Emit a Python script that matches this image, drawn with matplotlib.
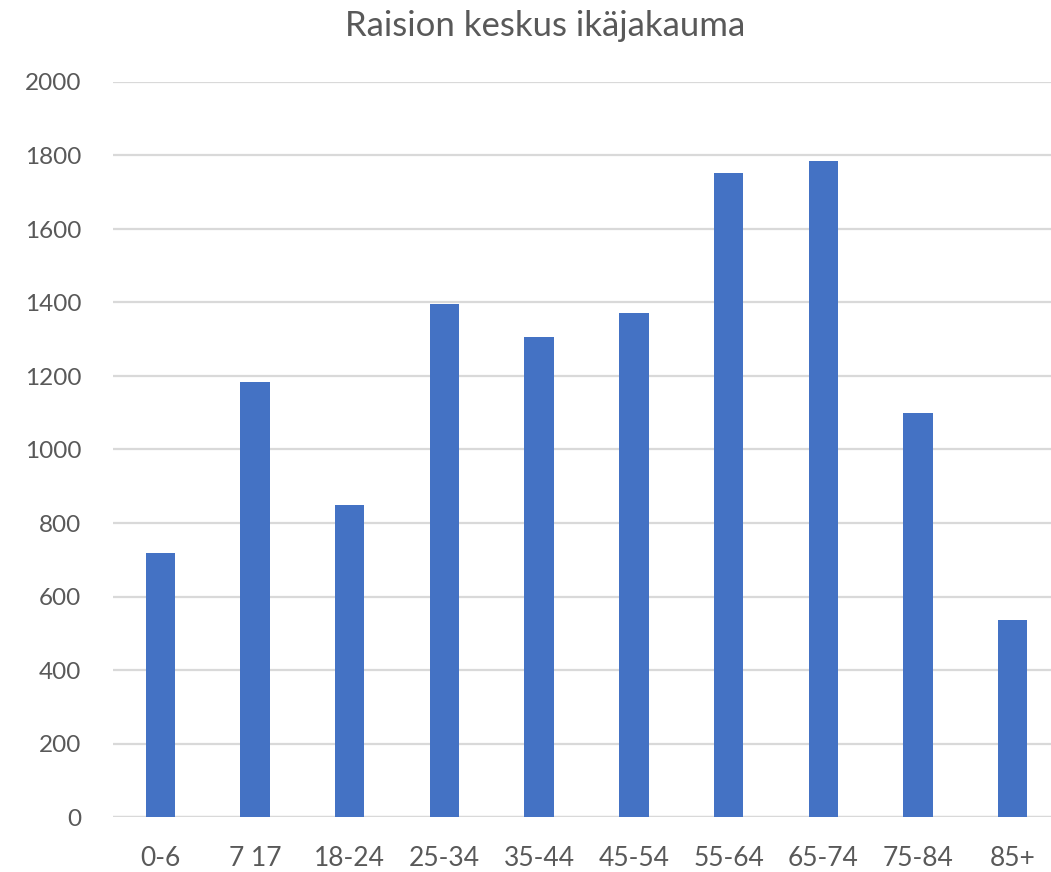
import matplotlib
matplotlib.use("Agg")
import matplotlib.pyplot as plt

categories = ["0-6", "7 17", "18-24", "25-34", "35-44", "45-54",
              "55-64", "65-74", "75-84", "85+"]
values = [718, 1184, 849, 1396, 1306, 1371, 1752, 1785, 1099, 536]
yticks = [0, 200, 400, 600, 800, 1000, 1200, 1400, 1600, 1800, 2000]

TEXT = "#595959"
BAR = "#4472C4"
GRID = "#D9D9D9"

plt.rcParams["font.family"] = ["Lato", "DejaVu Sans"]

fig = plt.figure(figsize=(10.51, 8.72), dpi=100)
ax = fig.add_axes([113 / 1051, 55 / 872, 947 / 1051, 735 / 872])

x = range(len(categories))
ax.bar(x, values, width=0.31, color=BAR, zorder=3)

ax.set_xlim(-0.5, len(categories) - 0.5)
ax.set_ylim(0, 2000)
ax.set_yticks(yticks)
ax.set_xticks(list(x))
ax.set_xticklabels(categories)
ax.yaxis.grid(True, color=GRID, linewidth=1.6, zorder=0)
for s in ax.spines.values():
    s.set_visible(False)
ax.tick_params(axis="y", length=0, colors=TEXT, labelsize=17.5, pad=23)
ax.tick_params(axis="x", length=0, colors=TEXT, labelsize=19, pad=21)
ax.axhline(0, color=GRID, linewidth=1.6, zorder=2)

fig.text(545 / 1051, 1 - 26 / 872, "Raision keskus ikäjakauma",
         ha="center", va="center", fontsize=25, color=TEXT)

fig.savefig("out.png", dpi=100)
